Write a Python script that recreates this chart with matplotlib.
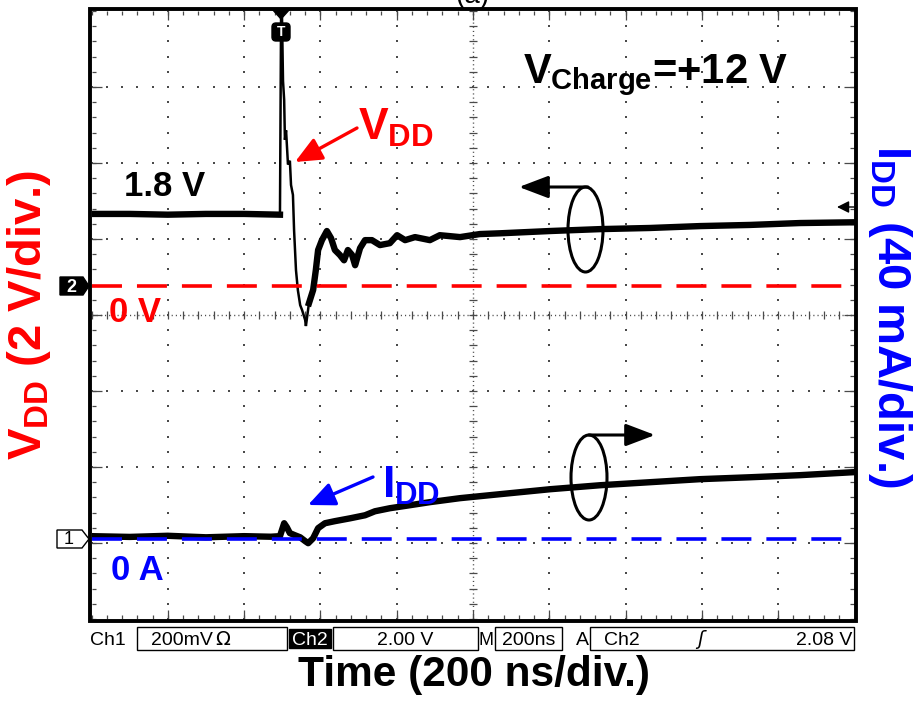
import numpy as np
import matplotlib
matplotlib.use('Agg')
import matplotlib.pyplot as plt
from matplotlib.patches import Ellipse, Rectangle, Polygon, FancyBboxPatch
from matplotlib.collections import LineCollection

plt.rcParams['font.family'] = ['Liberation Sans', 'DejaVu Sans']
plt.rcParams['mathtext.fontset'] = 'custom'
plt.rcParams['mathtext.rm'] = 'Liberation Sans:bold'
plt.rcParams['mathtext.it'] = 'Liberation Sans:bold'
plt.rcParams['mathtext.bf'] = 'Liberation Sans:bold'

# ---------------- data (time in ns, VDD in V, IDD in mA) ----------------
t_vdd = [0, 100, 200, 300, 400, 494, 497, 499, 502, 505, 507, 510, 515, 520, 523,
         528, 531, 536, 541, 547, 552, 560, 562, 570, 581, 588, 594, 604, 617, 628,
         638, 651, 662, 672, 683, 691, 704, 717, 735, 756, 782, 801, 822, 848, 887,
         913, 966, 1018, 1071, 1202, 1333, 1464, 1595, 1726, 1857, 2000]
v_vdd = [1.90, 1.90, 1.88, 1.90, 1.90, 1.88, 7.30, 7.30, 5.40, 4.90, 3.85, 4.10, 3.20, 3.30, 2.66,
         2.40, 1.47, 0.42, -0.11, -0.50, -0.63, -0.89, -1.05, -0.45, -0.10, 0.42, 0.95, 1.21, 1.45, 1.26,
         0.95, 0.82, 0.68, 0.95, 0.82, 0.55, 1.00, 1.21, 1.21, 1.08, 1.13, 1.34, 1.21, 1.29, 1.21,
         1.34, 1.29, 1.37, 1.39, 1.45, 1.50, 1.53, 1.58, 1.61, 1.66, 1.68]

t_idd = [0, 100, 200, 300, 400, 470, 494, 505, 512, 520, 533, 547, 560, 568, 581, 594,
         612, 638, 678, 717, 743, 782, 835, 887, 966, 1071, 1202, 1333, 1464, 1595,
         1726, 1857, 2000]
i_idd = [1.6, 1.2, 1.8, 1.0, 1.6, 1.3, 1.6, 8.4, 6.3, 3.2, 2.1, 1.0, -1.0, -2.1, 0.5, 5.8,
         8.4, 9.5, 11.0, 12.6, 14.7, 16.3, 17.9, 19.5, 21.6, 23.7, 26.3, 28.4, 30.0, 31.6,
         32.6, 33.7, 35.3]

v_zero = 0.0       # Ch2 ground reference (V)
i_zero = 0.0       # Ch1 ground reference (mA)

# ---------------- layout ----------------
W, H = 916, 702
fig = plt.figure(figsize=(W / 100, H / 100), dpi=100)
L, R, T, B = 91.5, 854.5, 11, 619
rect = [L / W, 1 - B / H, (R - L) / W, (B - T) / H]

RED = '#ff0000'
BLUE = '#0000ff'
GRID = '#4a4a4a'

# grid (screen) axes in divisions
gax = fig.add_axes(rect, zorder=0)
gax.set_xlim(0, 10)
gax.set_ylim(-4, 4)
gax.axis('off')
mx = np.arange(0, 10.001, 0.2)
my = np.arange(-4, 4.001, 0.2)
for yv in [-3, -2, -1, 1, 2, 3]:
    gax.plot(mx, np.full_like(mx, yv), ls='none', marker='s', ms=1.7, mew=0, color=GRID)
for xv in [1, 2, 3, 4, 6, 7, 8, 9]:
    gax.plot(np.full_like(my, xv), my, ls='none', marker='s', ms=1.7, mew=0, color=GRID)
gax.plot([0, 10], [0, 0], ls=(0, (0.8, 2.2)), lw=1.0, color=GRID)
gax.plot([5, 5], [-4, 4], ls=(0, (0.8, 2.2)), lw=1.0, color=GRID)
segs = []
for xm in mx:
    segs.append([(xm, -0.05), (xm, 0.05)])
    segs.append([(xm, -4), (xm, -3.95)])
    segs.append([(xm, 4), (xm, 3.95)])
for ym in my:
    segs.append([(4.95, ym), (5.05, ym)])
    segs.append([(0, ym), (0.06, ym)])
    segs.append([(10, ym), (9.94, ym)])
for xv in range(1, 10):
    segs.append([(xv, -4), (xv, -3.88)])
    segs.append([(xv, 4), (xv, 3.88)])
for yv in range(-3, 4):
    segs.append([(0, yv), (0.14, yv)])
    segs.append([(10, yv), (9.86, yv)])
gax.add_collection(LineCollection(segs, colors=GRID, linewidths=0.9))

# VDD axes
vax = fig.add_axes(rect, zorder=1, label='vdd')
vax.patch.set_visible(False)
vax.axis('off')
vax.set_xlim(0, 2000)
vax.set_ylim(-8.76, 7.24)
tv = np.array(t_vdd, dtype=float)
vv = np.array(v_vdd, dtype=float)
spike = (tv > 495) & (tv < 565)
vax.plot(tv, vv, color='black', lw=1.8, solid_joinstyle='miter')
vax.plot(tv, np.where(spike, np.nan, vv), color='black', lw=4.6)
red_line, = vax.plot([0, 2000], [v_zero, v_zero], color=RED, lw=2.6)
red_line.set_dashes((8.3, 4.15))

# IDD axes
iax = fig.add_axes(rect, zorder=2, label='idd')
iax.patch.set_visible(False)
iax.axis('off')
iax.set_xlim(0, 2000)
iax.set_ylim(-42, 278)
ti = np.array(t_idd, dtype=float)
ii = np.array(i_idd, dtype=float)
iax.plot(ti, ii, color='black', lw=4.6)
blue_line, = iax.plot([0, 2000], [i_zero, i_zero], color=BLUE, lw=2.6)
blue_line.set_dashes((8.3, 4.15))

# overlay in pixel coordinates
fax = fig.add_axes([0, 0, 1, 1], zorder=4, label='overlay')
fax.set_xlim(0, W)
fax.set_ylim(H, 0)
fax.axis('off')
fax.patch.set_visible(False)

# frame
fax.add_patch(Rectangle((L - 1.5, T - 2), R - L + 3, B - T + 4, fill=False, ec='black', lw=2.8))

# channel markers
fax.add_patch(Polygon([(60, 277), (83, 277), (89, 286), (83, 295), (60, 295)], closed=True,
                      fc='black', ec='black', lw=1))
fax.text(71, 287, '2', color='white', fontsize=13, fontweight='bold', ha='center', va='center')
fax.add_patch(Polygon([(57, 530), (82, 530), (89, 539), (82, 548), (57, 548)], closed=True,
                      fc='white', ec='black', lw=1))
fax.text(69, 540, '1', color='black', fontsize=13, ha='center', va='center')

# trigger markers
fax.add_patch(Polygon([(272, 9), (290, 9), (281, 19)], closed=True, fc='black', ec='black'))
fax.add_patch(FancyBboxPatch((272, 23), 18, 18, boxstyle='round,pad=0,rounding_size=4',
                             fc='black', ec='black'))
fax.text(281, 32, 'T', color='white', fontsize=10, fontweight='bold', ha='center', va='center')
fax.annotate('', xy=(837, 207), xytext=(854, 207),
             arrowprops=dict(arrowstyle='-|>,head_length=0.6,head_width=0.3', lw=1.0,
                             color='black', mutation_scale=12, shrinkA=0, shrinkB=0))

# ellipses and direction arrows
fax.add_patch(Ellipse((585.5, 229.5), 35, 85, fill=False, ec='black', lw=2.2))
fax.annotate('', xy=(519, 187), xytext=(588, 187),
             arrowprops=dict(arrowstyle='-|>,head_length=1.0,head_width=0.38', lw=2.2,
                             color='black', mutation_scale=18, shrinkA=0, shrinkB=0))
fax.add_patch(Ellipse((589, 477.5), 36, 85, fill=False, ec='black', lw=2.2))
fax.annotate('', xy=(655, 435), xytext=(589, 435),
             arrowprops=dict(arrowstyle='-|>,head_length=1.0,head_width=0.38', lw=2.2,
                             color='black', mutation_scale=18, shrinkA=0, shrinkB=0))

# annotation arrows
fax.annotate('', xy=(295, 162), xytext=(357, 128),
             arrowprops=dict(arrowstyle='-|>,head_length=0.9,head_width=0.4', lw=2.4,
                             color=RED, mutation_scale=18, shrinkA=0, shrinkB=0))
fax.annotate('', xy=(308, 505), xytext=(373, 477),
             arrowprops=dict(arrowstyle='-|>,head_length=0.9,head_width=0.4', lw=2.4,
                             color=BLUE, mutation_scale=18, shrinkA=0, shrinkB=0))

# texts
bold = dict(fontweight='bold', va='baseline', ha='left')
fax.text(523, 83, r'$V_{Charge}$=+12 V', fontsize=30, color='black', **bold)
fax.text(124, 196, '1.8 V', fontsize=25, color='black', **bold)
fax.text(358, 140, r'$V_{DD}$', fontsize=32, color=RED, **bold)
fax.text(109, 322, '0 V', fontsize=25, color=RED, **bold)
fax.text(382, 498, r'$I_{DD}$', fontsize=32, color=BLUE, **bold)
fax.text(111, 580, '0 A', fontsize=25, color=BLUE, **bold)

fax.text(29, 315, r'$V_{DD}$ (2 V/div.)', rotation=90, ha='center', va='center',
         fontsize=34, fontweight='bold', color=RED)
fax.text(890, 316, r'$I_{DD}$ (40 mA/div.)', rotation=-90, ha='center', va='center',
         fontsize=34, fontweight='bold', color=BLUE)
fax.text(474, 686, 'Time (200 ns/div.)', ha='center', va='baseline', fontsize=30.5,
         fontweight='bold', color='black')
fax.text(472, 3, '(a)', ha='center', va='baseline', fontsize=20, color='black')

# status bar
sb = dict(fontsize=14, va='baseline', family=['Liberation Sans Narrow', 'Liberation Sans', 'DejaVu Sans'])
y0, y1 = 627, 650
base = 645
fax.text(90, base, 'Ch1', ha='left', **sb)
fax.add_patch(Rectangle((137, y0), 150, y1 - y0, fill=False, ec='black', lw=1))
fax.text(213, base, '200mV', ha='right', **sb)
fax.text(215, base, 'Ω', ha='left', fontsize=14, va='baseline', family='DejaVu Sans')
fax.add_patch(Rectangle((289, y0 + 2), 42, y1 - y0 - 4, fc='black', ec='black', lw=1))
fax.text(310, base, 'Ch2', ha='center', color='white', **sb)
fax.add_patch(Rectangle((333, y0), 145, y1 - y0, fill=False, ec='black', lw=1))
fax.text(405, base, '2.00 V', ha='center', **sb)
fax.text(479, base, 'M', ha='left', fontsize=13, va='baseline', family='Liberation Sans')
fax.add_patch(Rectangle((495, y0), 67, y1 - y0, fill=False, ec='black', lw=1))
fax.text(528.5, base, '200ns', ha='center', **sb)
fax.text(576, base, 'A', ha='left', **sb)
fax.add_patch(Rectangle((590, y0), 264, y1 - y0, fill=False, ec='black', lw=1))
fax.text(604, base, 'Ch2', ha='left', **sb)
fax.text(700, base, 'ʃ', ha='center', fontsize=14, va='baseline', family='DejaVu Sans', style='italic')
fax.text(852, base, '2.08 V', ha='right', **sb)

fig.savefig('out.png', dpi=100)
